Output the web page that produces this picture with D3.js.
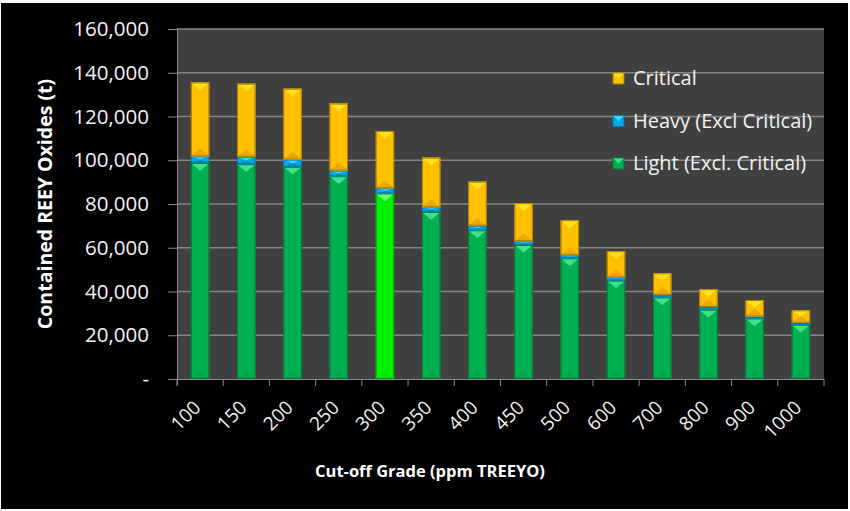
<!DOCTYPE html>
<html>
<head>
<meta charset="utf-8">
<style>
  body { margin: 0; background: #ffffff; }
  svg { display: block; }
  text { font-family: "Open Sans", "Noto Sans", sans-serif; fill: #f2f2f2; }
  .title { font-weight: bold; font-size: 17px; fill: #ffffff; }
</style>
</head>
<body>
<svg width="850" height="511"></svg>
<script src="https://d3js.org/d3.v7.min.js"></script>
<script>
// data (tonnes)
var grades = ["100", "150", "200", "250", "300", "350", "400", "450", "500", "600", "700", "800", "900", "1000"];
var light    = [98800, 98200, 97000, 92700, 84800, 76400, 68000, 61300, 55200, 45000, 37300, 31700, 27700, 24800];
var heavy    = [3000, 3400, 3300, 2600, 2400, 2100, 2100, 1700, 1400, 1400, 1200, 1200, 900, 900];
var critical = [33800, 33400, 32400, 30600, 26200, 22700, 20100, 17400, 16000, 12000, 9800, 8200, 7500, 5700];
var seriesNames = ["Light (Excl. Critical)", "Heavy (Excl Critical)", "Critical"];
var yTicks = [0, 20000, 40000, 60000, 80000, 100000, 120000, 140000, 160000];
var highlight = "300";

var colors = {
  "Light (Excl. Critical)": { base: "#00b050", top: "#3ee08e", bot: "#00a349", edge: "#067a3a" },
  "Heavy (Excl Critical)":  { base: "#00a8e6", top: "#48d8ff", bot: "#0090c8", edge: "#0a78a8" },
  "Critical":               { base: "#ffc000", top: "#ffe21c", bot: "#eaa800", edge: "#a87e08" }
};
var hiColor = { base: "#00f000", top: "#70ff70", bot: "#00e400", edge: "#10a010" };

var svg = d3.select("svg"),
    margin = { top: 29, right: 26, bottom: 132, left: 177 },
    width = +svg.attr("width") - margin.left - margin.right,
    height = +svg.attr("height") - margin.top - margin.bottom;

// frame
svg.append("rect").attr("x", 1).attr("y", 3).attr("width", 847).attr("height", 506).attr("fill", "#000");

var g = svg.append("g").attr("transform", "translate(" + margin.left + "," + margin.top + ")");

var xSlot = d3.scaleBand().domain(grades).range([0, width]).padding(0);
var x = d3.scaleBand().domain(grades).range([0, width]).paddingInner(0.6).paddingOuter(0.3);
var y = d3.scaleLinear().domain([0, 160000]).range([height, 0]);

g.append("rect").attr("width", width).attr("height", height).attr("fill", "#404040");

// gridlines
g.selectAll(".grid").data(yTicks.slice(1)).enter().append("line")
  .attr("x1", 0).attr("x2", width)
  .attr("y1", function(d) { return y(d); }).attr("y2", function(d) { return y(d); })
  .attr("stroke", "#858585").attr("stroke-width", 1.3);

// y axis
var yAxis = g.append("g")
  .call(d3.axisLeft(y).tickValues(yTicks).tickSize(9).tickPadding(19)
    .tickFormat(function(d) { return d === 0 ? "-" : d3.format(",")(d); }));
yAxis.select(".domain").attr("stroke", "#8a8a8a").attr("d", "M0.5,0V" + (height + 6));
yAxis.selectAll(".tick line").attr("stroke", "#8a8a8a");
yAxis.selectAll("text").style("font-size", "20.5px").attr("fill", "#f2f2f2");

// x axis
var xAxis = g.append("g").attr("transform", "translate(0," + height + ")")
  .call(d3.axisBottom(x).tickSize(0));
xAxis.select(".domain").attr("stroke", "#8a8a8a").attr("d", "M0,0.5H" + width);
xAxis.selectAll("text")
  .style("font-size", "19px").attr("fill", "#f2f2f2")
  .attr("x", 0).attr("y", 0).attr("dy", "0.35em")
  .attr("transform", "translate(-3,25) rotate(-45)")
  .style("text-anchor", "end");
xAxis.selectAll(".bound").data(grades.concat(["end"])).enter().append("line")
  .attr("x1", function(d) { return d === "end" ? width : xSlot(d); })
  .attr("x2", function(d) { return d === "end" ? width : xSlot(d); })
  .attr("y1", 0).attr("y2", 7).attr("stroke", "#8a8a8a");

// stacked bars
var rows = grades.map(function(gr, i) {
  return { grade: gr, "Light (Excl. Critical)": light[i], "Heavy (Excl Critical)": heavy[i], "Critical": critical[i] };
});
var stack = d3.stack().keys(seriesNames)(rows);
var bw = x.bandwidth();

stack.forEach(function(layer) {
  var key = layer.key;
  var lg = g.append("g");
  layer.forEach(function(s) {
    var gr = s.data.grade;
    var c = (key === seriesNames[0] && gr === highlight) ? hiColor : colors[key];
    var x0 = x(gr), x1 = x0 + bw, xc = x0 + bw / 2;
    var yt = y(s[1]), yb = y(s[0]);
    var h = Math.min(bw * 0.42, (yb - yt) / 2);
    lg.append("rect").attr("x", x0).attr("y", yt).attr("width", bw).attr("height", yb - yt)
      .attr("fill", c.base);
    lg.append("path").attr("d", "M" + x0 + "," + yb + "L" + x1 + "," + yb + "L" + xc + "," + (yb - h) + "Z")
      .attr("fill", c.bot);
    lg.append("path").attr("d", "M" + x0 + "," + yt + "L" + x1 + "," + yt + "L" + xc + "," + (yt + h) + "Z")
      .attr("fill", c.top);
    lg.append("rect").attr("x", x0 + 0.5).attr("y", yt + 0.5).attr("width", bw - 1).attr("height", Math.max(0, yb - yt - 1))
      .attr("fill", "none").attr("stroke", c.edge).attr("stroke-width", 1);
  });
});

// legend
var legendItems = ["Critical", "Heavy (Excl Critical)", "Light (Excl. Critical)"];
var legend = svg.append("g").attr("transform", "translate(613,0)");
legendItems.forEach(function(name, i) {
  var c = colors[name], ly = 78 + i * 42.5;
  var it = legend.append("g").attr("transform", "translate(0," + ly + ")");
  it.append("rect").attr("x", 0).attr("y", -5).attr("width", 11).attr("height", 11).attr("fill", c.base).attr("stroke", c.edge);
  it.append("path").attr("d", "M0.5,-4.5L10.5,-4.5L5.5,0.5Z").attr("fill", c.top);
  it.append("text").attr("x", 20).attr("y", 0).attr("dy", "0.35em").style("font-size", "20px").attr("fill", "#f2f2f2").text(name);
});

// axis titles
svg.append("text").attr("class", "title")
  .attr("transform", "translate(52," + (margin.top + height / 2) + ") rotate(-90)")
  .attr("text-anchor", "middle").style("font-size", "19.5px").text("Contained REEY Oxides (t)");
svg.append("text").attr("class", "title")
  .attr("x", 430).attr("y", 477).attr("text-anchor", "middle").style("font-size", "16.5px")
  .text("Cut-off Grade (ppm TREEYO)");
</script>
</body>
</html>
